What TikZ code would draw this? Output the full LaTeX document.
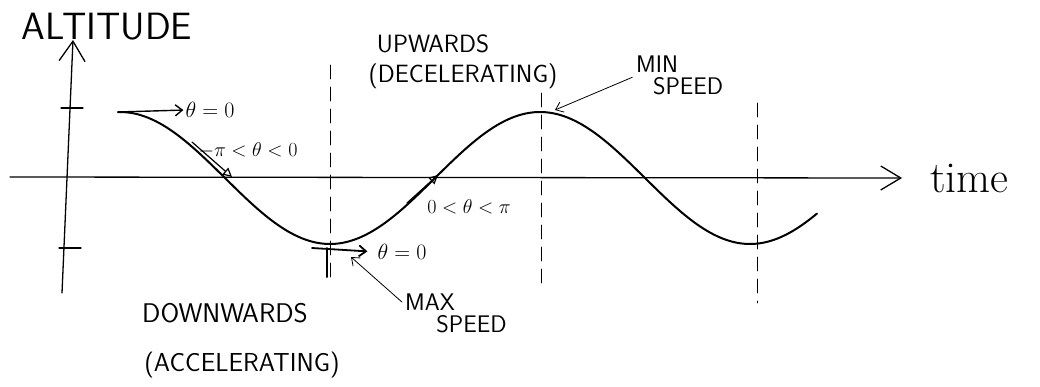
\documentclass[tikz,border=0pt]{standalone}
\usepackage{fix-cm}
\usepackage{fontspec}
\usetikzlibrary{arrows.meta,positioning}
\tikzset{
  hand/.style={font=\sffamily\fontsize{#1}{#1}\selectfont, inner sep=0pt},
  hand/.default=25,
  mathlbl/.style={font=\fontsize{#1}{#1}\selectfont, inner sep=0pt},
  mathlbl/.default=20,
  guide/.style={line width=0.8pt, dash pattern=on 14pt off 8pt},
  curve/.style={line width=2pt},
  tip/.style={-{Straight Barb[length=7pt,width=11pt]}},
  axis/.style={line width=1.3pt}
}

\begin{document}
\begin{tikzpicture}[x=1pt,y=-1pt,line cap=round]
  \useasboundingbox (0,0) rectangle (1040,386);
  % axes
  \coordinate (ybot) at (62,293);
  \coordinate (ytop) at (73,40);
  \coordinate (xleft) at (10,177);
  \coordinate (xright) at (902,178);
  \draw[axis, -{Straight Barb[length=20pt,width=26pt]}] (ybot) -- (ytop);
  \draw[axis, -{Straight Barb[length=20pt,width=24pt]}] (xleft) -- (xright);
  \draw[axis] (61,108) -- (83,108) (59,248) -- (81,248);
  \node[hand=38] (alt) at (107,27) {ALTITUDE};
  \node[right=28pt of xright, inner sep=0pt, font=\fontsize{44}{44}\selectfont\addfontfeature{LetterSpace=10}] (time) {time};

  % guides
  \draw[guide] (330,65) -- (330,277);
  \draw[guide] (541,93) -- (541,283);
  \draw[guide] (757,103) -- (757,303);
  \draw[line width=2pt] (327,248) -- (327,277);

  % altitude
  \draw[curve] plot[domain=118:817, samples=120, smooth] (\x, {178-66*cos(0.857143*(\x-120))});

  % direction of travel
  \coordinate (c0) at (118,112);
  \coordinate (d1) at (192,142);
  \coordinate (d2) at (232,177);
  \coordinate (u1) at (407,203);
  \coordinate (u2) at (438,175);
  \coordinate (c1) at (312,248);
  \coordinate (top) at (555,110);
  \coordinate (bot) at (351,257);
  \node[mathlbl=22] (th0) at (210,110) {$\theta=0$};
  \node[mathlbl] (neg) at (248,150) {$-\pi<\theta<0$};
  \node[mathlbl] (pos) at (469,207) {$0<\theta<\pi$};
  \node[mathlbl=22] (th1) at (402,252) {$\theta=0$};
  \draw[line width=1.4pt, tip, shorten >=2pt] (c0) -- (th0.west);
  \draw[line width=1.2pt, -{Triangle[open,length=9pt,width=9pt]}] (d1) -- (d2);
  \draw[line width=1.2pt, -{Triangle[open,length=9pt,width=9pt]}] (u1) -- (u2);
  \draw[line width=1.8pt, tip, shorten >=10pt] (c1) -- (th1.west);

  % labels
  \node[hand] (up) at (433,44) {UPWARDS};
  \node[hand] (decel) at (463,76) {(DECELERATING)};
  \node[hand=27] (down) at (225,313) {DOWNWARDS};
  \node[hand=26] (accel) at (242,365) {(ACCELERATING)};
  \node[hand=24, align=left, anchor=north west, font=\sffamily\fontsize{24}{22}\selectfont] (minsp) at (636,56) {MIN\\\hspace*{0.7em}SPEED};
  \node[hand=24, align=left, anchor=north west, font=\sffamily\fontsize{24}{22}\selectfont] (maxsp) at (405,294) {MAX\\\hspace*{1.3em}SPEED};
  \draw[line width=0.8pt, tip, shorten <=4pt] (minsp.west) -- (top);
  \draw[line width=0.8pt, tip, shorten <=4pt] (maxsp.170) -- (bot);
\end{tikzpicture}
\end{document}
